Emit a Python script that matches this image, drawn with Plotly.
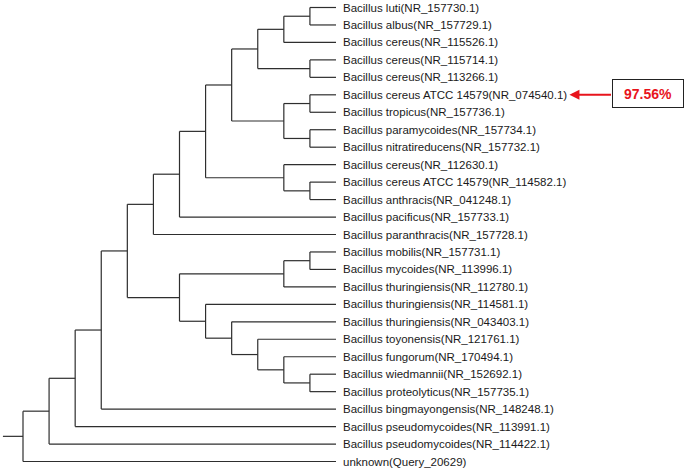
import plotly.graph_objects as go

# leaf labels, top to bottom
LEAVES = [
    "Bacillus luti(NR_157730.1)",
    "Bacillus albus(NR_157729.1)",
    "Bacillus cereus(NR_115526.1)",
    "Bacillus cereus(NR_115714.1)",
    "Bacillus cereus(NR_113266.1)",
    "Bacillus cereus ATCC 14579(NR_074540.1)",
    "Bacillus tropicus(NR_157736.1)",
    "Bacillus paramycoides(NR_157734.1)",
    "Bacillus nitratireducens(NR_157732.1)",
    "Bacillus cereus(NR_112630.1)",
    "Bacillus cereus ATCC 14579(NR_114582.1)",
    "Bacillus anthracis(NR_041248.1)",
    "Bacillus pacificus(NR_157733.1)",
    "Bacillus paranthracis(NR_157728.1)",
    "Bacillus mobilis(NR_157731.1)",
    "Bacillus mycoides(NR_113996.1)",
    "Bacillus thuringiensis(NR_112780.1)",
    "Bacillus thuringiensis(NR_114581.1)",
    "Bacillus thuringiensis(NR_043403.1)",
    "Bacillus toyonensis(NR_121761.1)",
    "Bacillus fungorum(NR_170494.1)",
    "Bacillus wiedmannii(NR_152692.1)",
    "Bacillus proteolyticus(NR_157735.1)",
    "Bacillus bingmayongensis(NR_148248.1)",
    "Bacillus pseudomycoides(NR_113991.1)",
    "Bacillus pseudomycoides(NR_114422.1)",
    "unknown(Query_20629)",
]

# topology as nested tuples of leaf indices
CLADE_A = (((0, 1), 2), (3, 4))
CLADE_B = ((5, 6), (7, 8))
CLADE_D = (9, (10, 11))
CLADE_G = ((((CLADE_A, CLADE_B), CLADE_D), 12), 13)
CLADE_H = (((14, 15), 16), (17, (18, (19, (20, (21, 22))))))
TREE = ((((((CLADE_G, CLADE_H), 23), 24), 25), 26))

HIGHLIGHT_LEAF = 5
HIGHLIGHT_TEXT = "97.56%"

ROOT_STEM = 0.77
LINE_COLOR = "#2e2e2e"
FONT = "Liberation Sans, Arial, sans-serif"


def height(node):
    if isinstance(node, int):
        return 0
    return 1 + max(height(c) for c in node)


NLEVELS = height(TREE)
xs, ys = [], []


def layout_node(node):
    # returns (x, y) of node; draws its branches
    if isinstance(node, int):
        return NLEVELS, node
    x = NLEVELS - height(node)
    kids = [layout_node(c) for c in node]
    ky = [k[1] for k in kids]
    for kx, kyy in kids:
        xs.extend([x, kx, None])
        ys.extend([kyy, kyy, None])
    xs.extend([x, x, None])
    ys.extend([min(ky), max(ky), None])
    return x, (min(ky) + max(ky)) / 2


rx, ry = layout_node(TREE)
xs.extend([rx - ROOT_STEM, rx, None])
ys.extend([ry, ry, None])

fig = go.Figure()
fig.add_trace(go.Scatter(x=xs, y=ys, mode="lines",
                         line=dict(color=LINE_COLOR, width=1.2),
                         hoverinfo="skip", showlegend=False))

for i, name in enumerate(LEAVES):
    fig.add_annotation(x=NLEVELS, y=i, text=name, showarrow=False,
                       xanchor="left", yanchor="middle", xshift=5,
                       font=dict(family=FONT, size=11.5, color="#1a1a1a"))

# arrow from the box to the highlighted label
fig.add_annotation(x=20.95, y=HIGHLIGHT_LEAF, ax=22.6, ay=HIGHLIGHT_LEAF,
                   xref="x", yref="y", axref="x", ayref="y", text="",
                   showarrow=True, arrowhead=2, arrowsize=1, arrowwidth=2,
                   arrowcolor="#e8141c")
fig.add_annotation(x=23.95, y=HIGHLIGHT_LEAF, yshift=1, text="<b>" + HIGHLIGHT_TEXT + "</b>",
                   showarrow=False, width=68, height=25,
                   bordercolor="#222222", borderwidth=1, bgcolor="white",
                   font=dict(family=FONT, size=14, color="#e8141c"))

px_per_level = (336 - 23) / NLEVELS
px_per_row = (461.5 - 7.5) / (len(LEAVES) - 1)
fig.update_layout(
    width=685, height=471,
    margin=dict(l=0, r=0, t=0, b=0),
    paper_bgcolor="white", plot_bgcolor="white",
    xaxis=dict(range=[-23 / px_per_level, (685 - 23) / px_per_level],
               visible=False, fixedrange=True),
    yaxis=dict(range=[(471 - 7.5) / px_per_row, -7.5 / px_per_row],
               visible=False, fixedrange=True),
)

# drop the default page margin so the figure fills the window
fig.write_html("out.html", config={"displayModeBar": False},
               post_script="document.body.style.margin='0';document.body.style.overflow='hidden';")
